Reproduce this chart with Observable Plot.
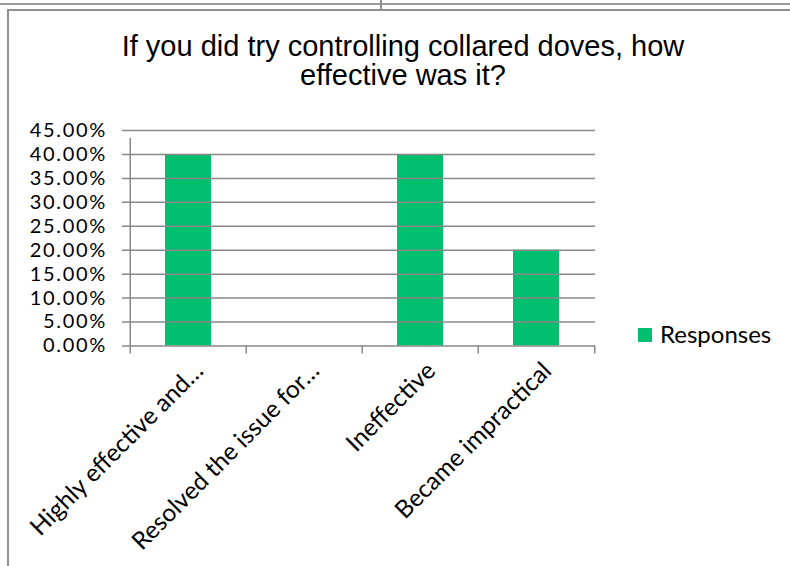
<!DOCTYPE html>
<html>
<head>
<meta charset="utf-8">
<script src="https://cdn.jsdelivr.net/npm/d3@7"></script>
<script src="https://cdn.jsdelivr.net/npm/@observablehq/plot@0.6"></script>
<style>
  body { margin: 0; background: #fff; }
  #wrap { position: relative; width: 790px; height: 566px; overflow: hidden; background: #fff; }
  .line { position: absolute; background: #8f8f8f; }
  #title { position: absolute; left: 8px; top: 31.5px; width: 790px; text-align: center;
           font-family: "Liberation Sans", Arial, sans-serif; font-size: 29px; line-height: 29px; color: #000; }
  #chart { position: absolute; left: 0; top: 0; }
  #legend-swatch { position: absolute; left: 638px; top: 328px; width: 14px; height: 14px; }
  #legend-text { position: absolute; left: 660px; top: 319.5px; font-family: Lato, sans-serif;
                 font-size: 24px; line-height: 1.2; color: #000; }
</style>
</head>
<body>
<div id="wrap">
  <div class="line" style="left:0;top:3px;width:790px;height:2px;background:#9a9a9a"></div>
  <div class="line" style="left:380px;top:0;width:1.5px;height:9px"></div>
  <div class="line" style="left:7px;top:9px;width:783px;height:1.5px"></div>
  <div class="line" style="left:7px;top:9px;width:1.5px;height:557px"></div>
  <div id="chart"></div>
  <div id="title"></div>
  <div id="legend-swatch"></div>
  <div id="legend-text"></div>
</div>
<script>
const titleLines = ["If you did try controlling collared doves, how", "effective was it?"];
const categories = ["Highly effective and…", "Resolved the issue for…", "Ineffective", "Became impractical"];
const values = [0.40, 0.00, 0.40, 0.20];
const yTicks = [0, 0.05, 0.10, 0.15, 0.20, 0.25, 0.30, 0.35, 0.40, 0.45];
const seriesName = "Responses";
const barColor = "#00bf6f";
const gridColor = "#898989";

const data = categories.map((c, i) => ({category: c, value: values[i]}));

const W = 790, H = 566;
const mL = 129, mR = 195, mT = 130, mB = 220.5;
const step = (W - mL - mR) / categories.length;

const fmt = d3.format(".2%");

const chart = Plot.plot({
  width: W,
  height: H,
  marginLeft: mL,
  marginRight: mR,
  marginTop: mT,
  marginBottom: mB,
  style: {fontFamily: "Lato, sans-serif", background: "transparent", overflow: "visible"},
  x: {domain: categories, paddingInner: 0.6, paddingOuter: 0.3, axis: null},
  y: {domain: [0, 0.45], axis: null},
  marks: [
    Plot.barY(data, {x: "category", y: "value", fill: barColor}),
    Plot.ruleY(yTicks, {y: d => d, stroke: gridColor, strokeWidth: 1.5, insetLeft: -7}),
    Plot.ruleX(categories, {x: d => d, dx: -step / 2, y1: 0, y2: 0, stroke: gridColor, strokeWidth: 1.5, insetBottom: -8}),
    Plot.ruleX(categories.slice(-1), {x: d => d, dx: step / 2, y1: 0, y2: 0, stroke: gridColor, strokeWidth: 1.5, insetBottom: -8}),
    Plot.ruleX(categories.slice(0, 1), {x: d => d, dx: -step / 2, y1: 0, y2: 0.45, stroke: gridColor, strokeWidth: 1.5, insetBottom: -8}),
    Plot.text(yTicks, {y: d => d, frameAnchor: "left", text: d => fmt(d), textAnchor: "end",
      dx: -22.5, fontSize: 20, fill: "#000"}),
    Plot.text(categories, {x: d => d, frameAnchor: "bottom", text: d => d, rotate: -45,
      textAnchor: "end", lineAnchor: "top", dx: 4, dy: 14, fontSize: 24.5, fill: "#000"})
  ]
});

d3.select(chart).selectAll("text")
  .filter(function() { return /%$/.test(this.textContent); })
  .style("letter-spacing", "1.7px");

document.getElementById("chart").appendChild(chart);

document.getElementById("title").innerHTML = titleLines.join("<br>");
document.getElementById("legend-swatch").style.background = barColor;
document.getElementById("legend-text").textContent = seriesName;
</script>
</body>
</html>
